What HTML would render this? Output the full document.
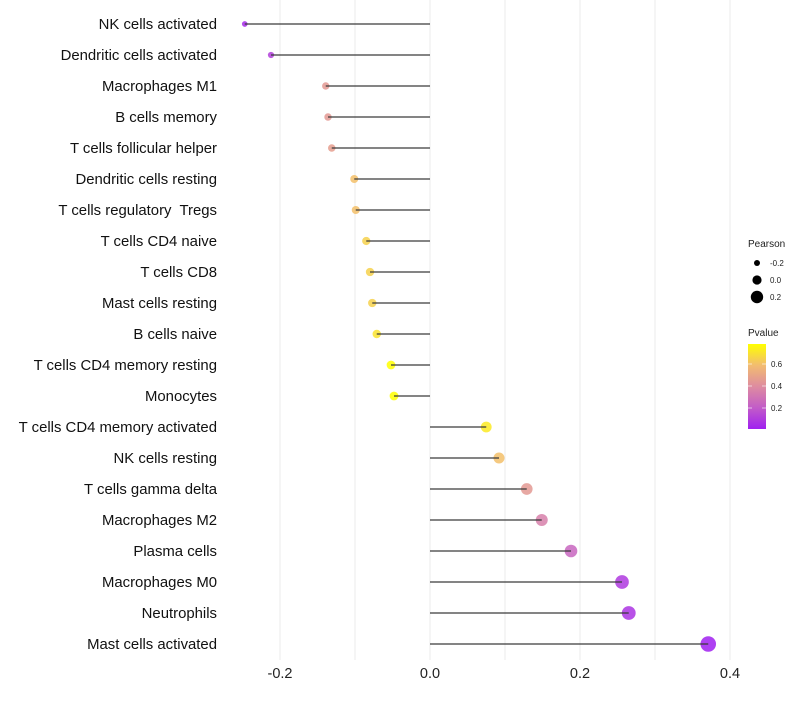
<!DOCTYPE html>
<html><head><meta charset="utf-8"><style>
body{margin:0;background:#fff;font-family:"Liberation Sans",sans-serif}
text{white-space:pre}
</style></head><body>
<svg id="chart" width="800" height="700" xmlns="http://www.w3.org/2000/svg" font-family="Liberation Sans, sans-serif">
<defs><linearGradient id="pg" x1="0" y1="1" x2="0" y2="0">
<stop offset="0" stop-color="#A020F0"/><stop offset="0.25" stop-color="#C25CC8"/><stop offset="0.5" stop-color="#DE8CA0"/><stop offset="0.75" stop-color="#F2BC70"/><stop offset="1" stop-color="#FFFF00"/>
</linearGradient></defs>
<g id="grid"></g>
<g id="marks"></g>
<g id="ylabels"></g>
<g id="xlabels"></g>
<g>
<text x="748" y="247" font-size="10" fill="#222">Pearson</text>
<circle cx="757" cy="263" r="3" fill="#000"/><text x="770" y="266" font-size="8" fill="#222">-0.2</text>
<circle cx="757" cy="280" r="4.6" fill="#000"/><text x="770" y="283" font-size="8" fill="#222">0.0</text>
<circle cx="757" cy="297" r="6.2" fill="#000"/><text x="770" y="300" font-size="8" fill="#222">0.2</text>
</g>
<g>
<text x="748" y="336" font-size="10" fill="#222">Pvalue</text>
<rect x="748" y="344" width="18" height="85" fill="url(#pg)"/>
<line x1="748" x2="752" y1="364" y2="364" stroke="#fff" stroke-opacity=".6"/><line x1="762" x2="766" y1="364" y2="364" stroke="#fff" stroke-opacity=".6"/>
<line x1="748" x2="752" y1="386" y2="386" stroke="#fff" stroke-opacity=".6"/><line x1="762" x2="766" y1="386" y2="386" stroke="#fff" stroke-opacity=".6"/>
<line x1="748" x2="752" y1="408" y2="408" stroke="#fff" stroke-opacity=".6"/><line x1="762" x2="766" y1="408" y2="408" stroke="#fff" stroke-opacity=".6"/>
<text x="771" y="367" font-size="8" fill="#222">0.6</text>
<text x="771" y="389" font-size="8" fill="#222">0.4</text>
<text x="771" y="411" font-size="8" fill="#222">0.2</text>
</g>
</svg>
<script>
const categories=["NK cells activated","Dendritic cells activated","Macrophages M1","B cells memory","T cells follicular helper","Dendritic cells resting","T cells regulatory  Tregs","T cells CD4 naive","T cells CD8","Mast cells resting","B cells naive","T cells CD4 memory resting","Monocytes","T cells CD4 memory activated","NK cells resting","T cells gamma delta","Macrophages M2","Plasma cells","Macrophages M0","Neutrophils","Mast cells activated"];
const pearson=[-0.247,-0.212,-0.139,-0.136,-0.131,-0.101,-0.099,-0.085,-0.080,-0.077,-0.071,-0.052,-0.048,0.075,0.092,0.129,0.149,0.188,0.256,0.265,0.371];
const pvalue=[0.05,0.12,0.45,0.45,0.47,0.6,0.6,0.65,0.65,0.65,0.7,0.78,0.78,0.72,0.6,0.45,0.35,0.25,0.1,0.08,0.01];
const xTicks=[-0.2,0,0.2,0.4];
const xTickLabels=["-0.2","0.0","0.2","0.4"];
const xMinor=[-0.1,0.1,0.3];
const NS="http://www.w3.org/2000/svg";
const x=v=>430+v*750;
const y=i=>24+i*31;
const rad=v=>Math.max(1.8,4.8+8*v);
const pmin=0.018,pmax=0.78;
const stops=[[0,[160,32,240]],[0.25,[194,92,200]],[0.5,[222,140,160]],[0.75,[242,188,112]],[1,[255,255,0]]];
function col(p){let t=Math.max(0,Math.min(1,(p-pmin)/(pmax-pmin)));for(let k=1;k<stops.length;k++){if(t<=stops[k][0]){const a=stops[k-1],b=stops[k];const f=(t-a[0])/(b[0]-a[0]);return "rgb("+a[1].map((c,j)=>Math.round(c+(b[1][j]-c)*f)).join(",")+")";}}return "rgb(255,255,0)";}
function mk(tag,attrs,parent){const e=document.createElementNS(NS,tag);for(const k in attrs)e.setAttribute(k,attrs[k]);parent.appendChild(e);return e;}
const grid=document.getElementById('grid'),marks=document.getElementById('marks'),yl=document.getElementById('ylabels'),xl=document.getElementById('xlabels');
xTicks.concat(xMinor).forEach(v=>{const l=mk('line',{x1:x(v),x2:x(v),y1:0,y2:660,stroke:'#ebebeb','stroke-width':1},grid);

});
xTicks.forEach((v,i)=>{const t=mk('text',{x:x(v),y:678,'font-size':14.5,'text-anchor':'middle',fill:'#222'},xl);t.textContent=xTickLabels[i];

});
categories.forEach((c,i)=>{
const t=mk('text',{x:217,y:y(i)+5,'font-size':14.9,'text-anchor':'end',fill:'#111'},yl);t.textContent=c;


const p=mk('circle',{cx:x(pearson[i]),cy:y(i),r:rad(pearson[i]),fill:col(pvalue[i]),'fill-opacity':0.85},marks);


const s=mk('line',{x1:x(0),x2:x(pearson[i]),y1:y(i),y2:y(i),stroke:'#3a3a3a','stroke-width':1.2},marks);


});
</script>
</body></html>
